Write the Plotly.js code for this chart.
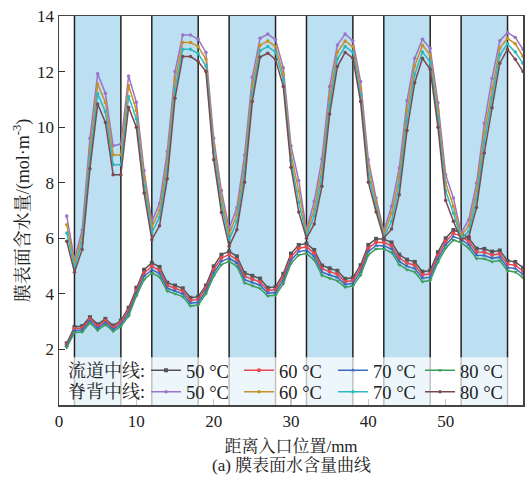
<!DOCTYPE html>
<html>
<head>
<meta charset="utf-8">
<script src="https://cdn.plot.ly/plotly-3.0.1.min.js"></script>
<style>html,body{margin:0;padding:0;background:#fff;}#chart{width:531px;height:481px;}</style>
</head>
<body>
<div id="chart"></div>
<script>
// x positions (mm)
const xPos = [1,2,3,4,5,6,7,8,9,10,11,12,13,14,15,16,17,18,19,20,21,22,23,24,25,26,27,28,29,30,31,32,33,34,35,36,37,38,39,40,41,42,43,44,45,46,47,48,49,50,51,52,53,54,55,56,57,58,59,60];

// 流道中线 (channel centerline)
const ch50 = [2.22,2.81,2.84,3.16,2.90,3.10,2.86,3.04,3.50,4.22, 4.87,5.11,4.97,4.40,4.30,4.20,3.86,3.90,4.30,4.99, 5.41,5.53,5.35,4.75,4.65,4.55,4.22,4.25,4.72,5.45, 5.76,5.81,5.58,5.02,4.92,4.83,4.54,4.58,5.03,5.76, 5.98,5.97,5.85,5.41,5.23,5.15,4.80,4.84,5.50,6.00, 6.30,6.20,6.00,5.63,5.62,5.52,5.56,5.19,5.15,4.94];
const ch60 = [2.17,2.74,2.77,3.09,2.83,3.03,2.79,2.97,3.40,4.12, 4.75,4.99,4.85,4.30,4.20,4.10,3.76,3.80,4.20,4.87, 5.29,5.41,5.23,4.63,4.53,4.43,4.12,4.15,4.60,5.33, 5.64,5.69,5.46,4.90,4.80,4.71,4.44,4.48,4.91,5.64, 5.86,5.85,5.73,5.29,5.11,5.03,4.68,4.72,5.38,5.88, 6.18,6.08,5.88,5.51,5.50,5.40,5.44,5.07,5.03,4.82];
const ch70 = [2.12,2.67,2.70,3.02,2.76,2.96,2.72,2.90,3.30,4.02, 4.63,4.87,4.73,4.20,4.10,4.00,3.66,3.70,4.10,4.75, 5.17,5.29,5.11,4.51,4.41,4.31,4.02,4.05,4.48,5.21, 5.52,5.57,5.34,4.78,4.68,4.59,4.34,4.38,4.79,5.52, 5.74,5.73,5.61,5.17,4.99,4.91,4.56,4.60,5.26,5.76, 6.06,5.96,5.76,5.39,5.38,5.28,5.32,4.95,4.91,4.70];
const ch80 = [2.07,2.60,2.63,2.95,2.69,2.89,2.65,2.83,3.20,3.92, 4.51,4.75,4.61,4.10,4.00,3.90,3.56,3.60,4.00,4.63, 5.05,5.17,4.99,4.39,4.29,4.19,3.92,3.95,4.36,5.09, 5.40,5.45,5.22,4.66,4.56,4.47,4.24,4.28,4.67,5.40, 5.62,5.61,5.49,5.05,4.87,4.79,4.44,4.48,5.14,5.64, 5.94,5.84,5.64,5.27,5.26,5.16,5.20,4.83,4.79,4.58];

// 脊背中线 (rib centerline)
const rb50 = [6.80,5.23,6.30,9.60,11.92,11.22,9.33,9.39,11.84,10.90, 8.44,6.60,7.25,9.12,12.00,13.32,13.32,13.16,12.69,9.60, 7.72,6.35,7.10,9.00,11.80,13.20,13.35,13.15,12.14,9.33, 8.08,6.30,7.33,8.85,11.46,12.96,13.35,13.11,11.64,8.83, 7.45,6.25,7.15,8.53,10.95,12.48,13.16,12.84,10.88,8.29, 7.45,6.20,6.67,7.99,10.14,11.76,13.11,13.40,13.23,12.80];
const rb60 = [6.49,5.10,6.05,9.21,11.55,10.90,9.00,9.00,11.50,10.60, 8.20,6.40,7.00,8.80,11.70,13.05,13.05,12.90,12.45,9.35, 7.45,6.15,6.85,8.65,11.50,12.95,13.10,12.90,11.90,9.05, 7.70,6.20,7.05,8.50,11.10,12.70,13.10,12.90,11.40,8.55, 7.30,6.15,6.90,8.20,10.60,12.20,12.95,12.60,10.60,8.00, 7.15,6.10,6.45,7.70,9.80,11.40,12.85,13.20,13.00,12.55];
const rb70 = [6.19,4.95,5.85,8.90,11.20,10.55,8.65,8.65,11.10,10.30, 7.90,6.20,6.75,8.45,11.35,12.80,12.80,12.65,12.20,9.10, 7.20,5.95,6.60,8.35,11.20,12.75,12.90,12.70,11.70,8.80, 7.30,6.10,6.80,8.20,10.80,12.45,12.90,12.70,11.15,8.30, 7.10,6.05,6.60,7.90,10.25,11.90,12.70,12.35,10.30,7.70, 6.90,6.00,6.25,7.40,9.45,11.05,12.60,13.00,12.70,12.30];
const rb80 = [5.89,4.78,5.60,8.50,10.83,10.17,8.29,8.29,10.72,10.00, 7.63,5.95,6.45,8.14,11.04,12.54,12.54,12.36,12.00,8.83, 6.93,5.71,6.31,8.02,10.92,12.52,12.66,12.44,11.46,8.56, 6.95,6.00,6.51,7.87,10.47,12.18,12.69,12.48,10.92,8.02, 6.95,6.01,6.33,7.57,9.88,11.60,12.48,12.08,10.00,7.36, 6.61,5.95,6.07,7.11,9.07,10.70,12.30,12.80,12.44,12.00];

const tempLabels = ['50 °C','60 °C','70 °C','80 °C'];
const groupTitles = ['流道中线:','脊背中线:'];
// shaded (rib) regions
const bandStarts = [2,12,22,32,42,52];
const bandEnds   = [8,18,28,38,48,58];
const xTicks = [0,10,20,30,40,50,60];
const yTicks = [2,4,6,8,10,12,14];

const FONT = '"Liberation Serif", "Times New Roman", "Noto Serif CJK SC", "Noto Sans CJK SC", serif';

const chSeries = [ch50, ch60, ch70, ch80];
const rbSeries = [rb50, rb60, rb70, rb80];
const chColors = ['#555555','#e8474f','#3a6cc0','#3c9e5c'];
const rbColors = ['#9a74c8','#c8902a','#2fb8c0','#7a4a50'];
const chSymbols = ['square','circle','triangle-up','triangle-down'];

// legend layout (paper coords)
const plotL = 59, plotW = 464;
const entryPx = [146, 239, 333, 420];
const rowY = [0.088, 0.033];

const traces = [];
chSeries.forEach((s,i)=>{
  traces.push({x:xPos, y:s, type:'scatter', mode:'lines+markers', name:tempLabels[i],
    legend: 'legend' + (i===0 ? '' : (i+1)), line:{color:chColors[i], width:1.5},
    marker:{color:chColors[i], size:4, symbol:chSymbols[i]}});
});
rbSeries.forEach((s,i)=>{
  traces.push({x:xPos, y:s, type:'scatter', mode:'lines+markers', name:tempLabels[i],
    legend:'legend' + (i+5), line:{color:rbColors[i], width:1.5},
    marker:{color:rbColors[i], size:3.5, symbol:'circle'}});
});

const shapes = [];
bandStarts.forEach((b,i)=>{
  shapes.push({type:'rect', xref:'x', yref:'paper', x0:b, x1:bandEnds[i], y0:0, y1:1,
    fillcolor:'#bcdff1', line:{width:0}, layer:'below'});
});
bandStarts.concat(bandEnds).forEach(v=>{
  shapes.push({type:'line', xref:'x', yref:'paper', x0:v, x1:v, y0:0, y1:1,
    line:{color:'#222222', width:1.5}, layer:'below'});
});
// legend backdrop
shapes.push({type:'rect', xref:'paper', yref:'y', x0:0, x1:1, y0:0, y1:1.72,
  fillcolor:'rgba(255,255,255,0.72)', line:{width:0}, layer:'above'});

const layout = {
  width:531, height:481,
  margin:{l:59, r:8, t:16, b:76},
  paper_bgcolor:'#fff', plot_bgcolor:'rgba(0,0,0,0)',
  font:{family:FONT, color:'#222'},
  showlegend:true,
  xaxis:{range:[0,60], tickvals:xTicks, ticks:'inside', ticklen:6, tickwidth:1.2, tickcolor:'#333',
    showline:true, linecolor:'#444', linewidth:1.5, mirror:true, showgrid:false, zeroline:false,
    tickfont:{family:FONT, size:17, color:'#222'},
    title:{text:'距离入口位置/mm', font:{family:FONT, size:17, color:'#222'}, standoff:10}},
  yaxis:{range:[0,14], tickvals:yTicks, ticks:'inside', ticklen:6, tickwidth:1.2, tickcolor:'#333',
    showline:true, linecolor:'#444', linewidth:1.5, mirror:true, showgrid:false, zeroline:false,
    tickfont:{family:FONT, size:17, color:'#222'},
    title:{text:'膜表面含水量/(mol·m<sup>-3</sup>)', font:{family:FONT, size:18, color:'#222'}, standoff:3}},
  shapes:shapes,
  annotations:[
    {text:'(a) 膜表面水含量曲线', xref:'paper', yref:'paper', x:0.5, y:-0.155, yanchor:'middle',
      showarrow:false, font:{family:FONT, size:17, color:'#222'}},
    {text:groupTitles[0], xref:'paper', yref:'paper', x:(66-plotL)/plotW, y:rowY[0], xanchor:'left', yanchor:'middle',
      showarrow:false, font:{family:FONT, size:18, color:'#222'}},
    {text:groupTitles[1], xref:'paper', yref:'paper', x:(66-plotL)/plotW, y:rowY[1], xanchor:'left', yanchor:'middle',
      showarrow:false, font:{family:FONT, size:18, color:'#222'}}
  ]
};

for (let k=0; k<8; k++){
  const key = 'legend' + (k===0 ? '' : (k+1));
  const col = k % 4, row = Math.floor(k/4);
  layout[key] = {x:(entryPx[col]-plotL)/plotW, y:rowY[row], xanchor:'left', yanchor:'middle',
    bgcolor:'rgba(0,0,0,0)', borderwidth:0, font:{family:FONT, size:18.5, color:'#222'},
    itemwidth:30, orientation:'h'};
}

Plotly.newPlot('chart', traces, layout, {displayModeBar:false, staticPlot:true});
</script>
</body>
</html>
